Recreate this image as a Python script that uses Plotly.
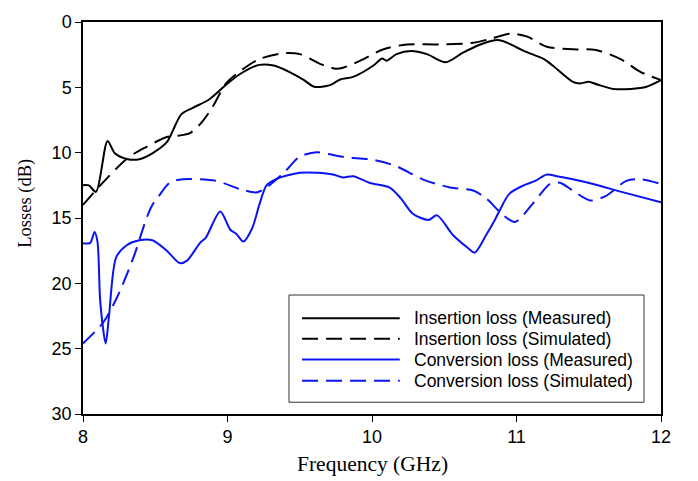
import plotly.graph_objects as go

# Insertion loss (Measured)
il_meas_f = [8.0, 8.04, 8.09, 8.17, 8.22, 8.31, 8.39, 8.48, 8.58, 8.68, 8.76, 8.87, 8.99, 9.09, 9.22,
             9.32, 9.43, 9.53, 9.60, 9.71, 9.78, 9.87, 10.01, 10.07, 10.10, 10.17, 10.27, 10.38, 10.51,
             10.63, 10.75, 10.85, 10.91, 11.05, 11.19, 11.25, 11.39, 11.44, 11.50, 11.56, 11.67, 11.79,
             11.90, 12.0]
il_meas_v = [12.5, 12.5, 13.0, 9.1, 10.05, 10.5, 10.5, 10.05, 9.2, 7.07, 6.57, 5.95, 4.8, 3.96, 3.28,
             3.33, 3.83, 4.45, 4.95, 4.83, 4.4, 4.2, 3.33, 2.79, 2.96, 2.46, 2.21, 2.46, 3.08,
             2.34, 1.72, 1.39, 1.47, 2.21, 2.84, 3.33, 4.58, 4.7, 4.58, 4.78, 5.12, 5.12,
             4.95, 4.45]

# Insertion loss (Simulated)
il_sim_f = [8.0, 8.12, 8.31, 8.44, 8.58, 8.66, 8.74, 8.82, 8.90, 8.99, 9.11, 9.22, 9.39, 9.50, 9.64,
            9.75, 9.80, 9.92, 10.08, 10.24, 10.47, 10.70, 10.82, 10.96, 11.07, 11.21, 11.39, 11.55,
            11.72, 11.86, 12.0]
il_sim_v = [14.0, 12.5, 10.4, 9.55, 8.8, 8.7, 8.5, 7.7, 6.44, 4.7, 3.58, 2.84, 2.39, 2.46, 3.2,
            3.58, 3.5, 2.96, 2.09, 1.72, 1.72, 1.59, 1.29, 0.9, 1.1, 1.89, 2.09, 2.14,
            2.84, 3.83, 4.45]

# Conversion loss (Measured)
cl_meas_f = [8.0, 8.05, 8.08, 8.10, 8.12, 8.157, 8.18, 8.23, 8.30, 8.39, 8.48, 8.58, 8.67, 8.72, 8.81,
             8.85, 8.95, 9.02, 9.06, 9.11, 9.17, 9.22, 9.27, 9.34, 9.50, 9.62, 9.73, 9.80, 9.87,
             9.98, 10.12, 10.20, 10.28, 10.39, 10.45, 10.56, 10.66, 10.71, 10.79, 10.85, 10.88,
             10.95, 11.05, 11.13, 11.21, 11.28, 11.39, 11.53, 11.74, 12.0]
cl_meas_v = [16.94, 16.9, 16.07, 16.8, 21.5, 24.6, 22.5, 18.0, 17.1, 16.7, 16.7, 17.5, 18.45, 18.26, 16.9,
             16.5, 14.5, 15.9, 16.2, 16.8, 15.8, 14.0, 12.5, 12.0, 11.54, 11.54, 11.67, 11.9, 11.8,
             12.3, 12.66, 13.5, 14.65, 15.15, 14.8, 16.3, 17.26, 17.65, 16.3, 15.15, 14.5,
             13.15, 12.5, 12.16, 11.67, 11.8, 12.04, 12.4, 13.04, 13.8]

# Conversion loss (Simulated)
cl_sim_f = [8.0, 8.14, 8.23, 8.35, 8.44, 8.48, 8.52, 8.60, 8.69, 8.92, 9.09, 9.20, 9.27, 9.39, 9.50,
            9.62, 9.73, 9.82, 10.01, 10.17, 10.35, 10.54, 10.70, 10.79, 10.91, 10.99, 11.12, 11.23,
            11.30, 11.39, 11.51, 11.62, 11.76, 11.86, 12.0]
cl_sim_v = [24.6, 23.0, 21.2, 18.0, 15.0, 14.0, 13.4, 12.3, 12.04, 12.16, 12.8, 13.04, 12.66, 11.54, 10.3,
            9.97, 10.18, 10.35, 10.55, 11.04, 12.04, 12.66, 12.9, 13.5, 14.8, 15.3, 13.8, 12.4,
            12.3, 12.9, 13.66, 13.3, 12.16, 12.04, 12.4]

legend_labels = ["Insertion loss (Measured)", "Insertion loss (Simulated)",
                 "Conversion loss (Measured)", "Conversion loss (Simulated)"]

x_ticks = [8, 9, 10, 11, 12]
y_ticks = [0, 5, 10, 15, 20, 25, 30]

BLUE = "#0a14f0"
DASH = "16px,8px"
series = [
    (il_meas_f, il_meas_v, "black", "solid"),
    (il_sim_f, il_sim_v, "black", DASH),
    (cl_meas_f, cl_meas_v, BLUE, "solid"),
    (cl_sim_f, cl_sim_v, BLUE, DASH),
]

fig = go.Figure()
for (f, v, c, d), name in zip(series, legend_labels):
    fig.add_trace(go.Scatter(x=f, y=v, mode="lines", name=name,
                             line=dict(color=c, width=2, dash=d, shape="spline", smoothing=0.8),
                             showlegend=False))

# Manual legend (paper coordinates)
fig.add_shape(type="rect", xref="paper", yref="paper", x0=0.3564, x1=0.9706, y0=0.030, y1=0.3035,
              line=dict(color="#333333", width=1), fillcolor="white", layer="above")
rows_y = [0.244, 0.192, 0.139, 0.085]
for (f, v, c, d), name, ry in zip(series, legend_labels, rows_y):
    fig.add_shape(type="line", xref="paper", yref="paper", x0=0.379, x1=0.548, y0=ry, y1=ry,
                  line=dict(color=c, width=2, dash=d), layer="above")
    fig.add_annotation(xref="paper", yref="paper", x=0.569, y=ry, text=name, showarrow=False,
                       xanchor="left", yanchor="middle",
                       font=dict(family="Liberation Sans, Arial", size=17.5, color="black"))

# Axis titles
fig.add_annotation(xref="paper", yref="paper", x=0.5, y=-0.127, text="Frequency (GHz)",
                   showarrow=False, xanchor="center", yanchor="middle",
                   font=dict(family="Liberation Serif, Times New Roman", size=21.5, color="black"))
fig.add_annotation(xref="paper", yref="paper", x=-0.100, y=0.537, text="Losses (dB)",
                   showarrow=False, xanchor="center", yanchor="middle", textangle=-90,
                   font=dict(family="Liberation Serif, Times New Roman", size=18.5, color="black"))

fig.update_layout(
    width=698, height=481,
    margin=dict(l=83, r=37, t=12, b=67),
    paper_bgcolor="white", plot_bgcolor="white",
    showlegend=False,
)
fig.update_xaxes(range=[8, 12], tickvals=x_ticks, ticks="outside", ticklen=6, tickcolor="black",
                 showgrid=False, zeroline=False, showline=True, linecolor="black", linewidth=1.5,
                 mirror=True,
                 tickfont=dict(family="Liberation Sans, Arial", size=18, color="black"))
fig.update_yaxes(range=[30, 0], tickvals=y_ticks, ticks="outside", ticklen=6, tickcolor="black",
                 showgrid=False, zeroline=False, showline=True, linecolor="black", linewidth=1.5,
                 mirror=True,
                 tickfont=dict(family="Liberation Sans, Arial", size=18, color="black"))

fig.write_html("out.html")
